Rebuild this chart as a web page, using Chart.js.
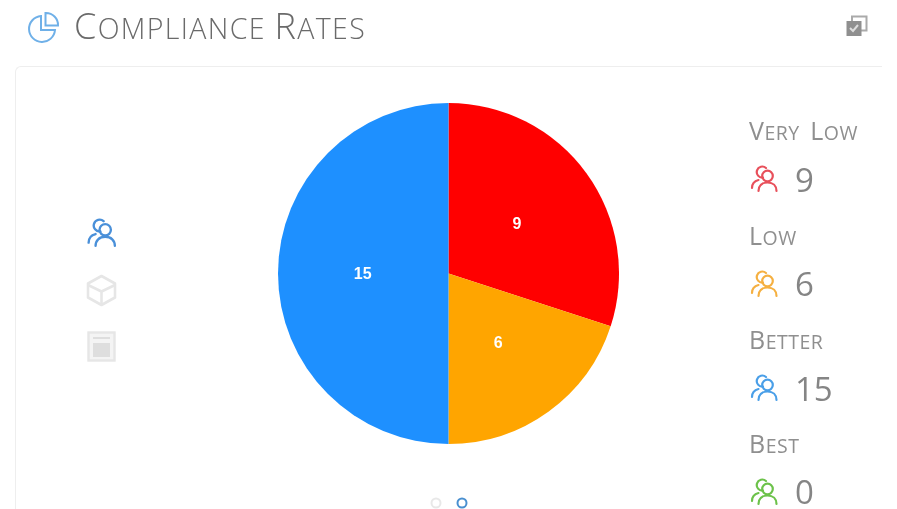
<!DOCTYPE html>
<html><head><meta charset="utf-8">
<script src="https://cdn.jsdelivr.net/npm/chart.js@4"></script>
<style>
html,body{margin:0;padding:0;background:#fff;width:897px;height:509px;overflow:hidden;font-family:"Open Sans",sans-serif}
.abs{position:absolute}
.soft{filter:blur(.45px)}
#title{left:74px;top:3px;font-size:28.500px;line-height:46px;font-weight:300;color:#6a6a6a;text-transform:uppercase;white-space:nowrap;letter-spacing:1.350px}
#title b{font-weight:300;font-size:36px}
#card{left:15px;top:66px;width:880px;height:460px;border:1px solid #eee;border-right:none;border-radius:6px;box-sizing:border-box}
#mask{left:882px;top:60px;width:15px;height:449px;background:#fff}
.lab{left:749px;font-size:19.500px;line-height:30px;font-weight:400;color:#8f8f8f;text-transform:uppercase;white-space:nowrap;letter-spacing:.5px;word-spacing:5px}
.lab b{font-weight:400;font-size:25px}
.val{left:795px;font-size:33px;line-height:40px;font-weight:400;color:#858585}
canvas{position:absolute;left:278px;top:103px}
</style></head><body>
<svg class="abs soft" style="left:27px;top:10px" width="36" height="34" viewBox="0 0 36 34" fill="none" stroke="#6fb0e8" stroke-width="2">
<path d="M14 6A13 13 0 1 0 28 20H14Z"/><path d="M18.500 3A12 12 0 0 1 31 15.500H18.500Z"/></svg>
<div class="abs soft" id="title"><b>C</b>ompliance <b>R</b>ates</div>
<svg class="abs soft" style="left:845px;top:14px" width="24" height="24" viewBox="0 0 24 24">
<path d="M7 2.500h14.500v14H7z" fill="none" stroke="#aaa" stroke-width="2"/>
<rect x="1.500" y="7" width="15" height="15" fill="#8f8f8f"/><path d="M5 14l3 3 5-6" fill="none" stroke="#ddd" stroke-width="2"/></svg>
<div class="abs" id="card"></div><div class="abs" id="mask"></div>
<svg class="abs soft" style="left:86px;top:218px" width="32" height="30" viewBox="0 0 29 28" id="sideUsers"></svg>
<svg class="abs soft" style="left:85px;top:274px" width="33" height="33" viewBox="0 0 33 33" fill="none" stroke="#e6e6e6" stroke-width="2.600" stroke-linejoin="round">
<path d="M16.500 2L30 9.500v14L16.500 31 3 23.500v-14z"/><path d="M3 11l13.500 6.500L30 11M16.500 17.500V31"/></svg>
<svg class="abs soft" style="left:87px;top:331px" width="29" height="31" viewBox="0 0 29 31">
<rect x="1.500" y="1.500" width="26" height="28" fill="#f4f4f4" stroke="#e6e6e6" stroke-width="2.400"/><rect x="6" y="12" width="17" height="14" fill="#dedede"/><path d="M6 7h17" stroke="#dedede" stroke-width="2"/></svg>
<svg class="abs soft" style="left:429px;top:496px" width="40" height="13" viewBox="0 0 40 13" fill="none">
<circle cx="7" cy="7" r="4.500" stroke="#e8e8e8" stroke-width="2"/><circle cx="33" cy="7" r="4.500" stroke="#4a90d0" stroke-width="2"/></svg>
<div id="legend" class="soft"></div>
<canvas id="c" width="341" height="341"></canvas>
<script>
const categories=["Very Low","Low","Better","Best"];
const counts=[9,6,15,0];
const sliceColors=["#ff0000","#ffa500","#1e90ff","#32cd32"];
const iconColors=["#e8505b","#f5b041","#4a9fe8","#6cc24a"];
const labelTops=[115,220,324,428];
const valueTops=[160,264,369,472];
const iconTops=[165,270,374,478];
function usersIcon(color){return `<g fill="none" stroke="${color}" stroke-width="2.200" stroke-linecap="round"><path d="M13 12.500a5.500 5.500 0 1 1 3-9.500"/><path d="M2 23c0-4 2.500-7 6.500-8"/><circle cx="17.500" cy="11" r="5.300"/><path d="M8.500 26c0-5 3.500-8.500 9-8.500s9 3.500 9 8.500"/></g>`;}
function capsHtml(t){return t.split(' ').map(w=>`<b>${w[0]}</b>${w.slice(1)}`).join(' ');}
document.getElementById('sideUsers').innerHTML=usersIcon("#4a90d9");
document.getElementById('legend').innerHTML=categories.map((c,i)=>
`<div class="abs lab" style="top:${labelTops[i]}px">${capsHtml(c)}</div>
<svg class="abs" style="left:750px;top:${iconTops[i]}px" width="29" height="28" viewBox="0 0 29 28">${usersIcon(iconColors[i])}</svg>
<div class="abs val" style="top:${valueTops[i]}px">${counts[i]}</div>`).join('');
const sliceLabels={id:'sliceLabels',afterDatasetsDraw(chart){
  const ctx=chart.ctx;const arcs=chart.getDatasetMeta(0).data;
  ctx.save();ctx.font='bold 16px "Liberation Sans",Arial,sans-serif';ctx.fillStyle='#fff';ctx.textAlign='center';ctx.textBaseline='middle';
  arcs.forEach((a,i)=>{if(!counts[i])return;const p=a.tooltipPosition();ctx.fillText(counts[i],p.x-0.500,p.y+1.500);});
  ctx.restore();}};
new Chart(document.getElementById('c'),{type:'pie',
 data:{labels:categories,datasets:[{data:counts,backgroundColor:sliceColors,borderWidth:0}]},
 options:{responsive:false,animation:false,layout:{padding:0},plugins:{legend:{display:false},tooltip:{enabled:false}}},
 plugins:[sliceLabels]});
</script>
</body></html>
